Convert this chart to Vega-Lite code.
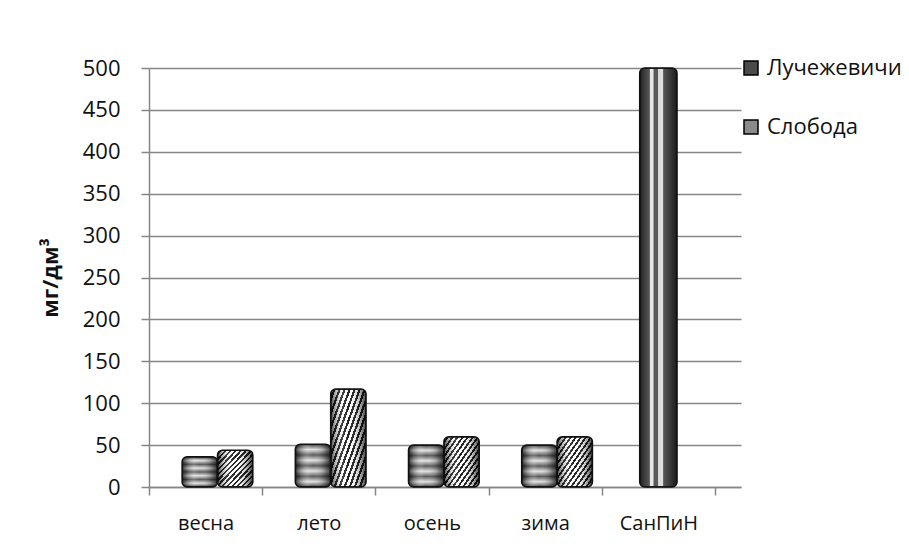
{
  "$schema": "https://vega.github.io/schema/vega-lite/v6.json",
  "width": 592,
  "height": 419,
  "autosize": {"type": "none"},
  "padding": {"left": 149, "top": 68, "right": 168, "bottom": 61},
  "background": "white",
  "config": {"view": {"stroke": null}, "font": "Open Sans"},
  "data": {
    "values": [
      {"season": "весна", "series": "Лучежевичи", "value": 36},
      {"season": "весна", "series": "Слобода", "value": 44},
      {"season": "лето", "series": "Лучежевичи", "value": 51},
      {"season": "лето", "series": "Слобода", "value": 117},
      {"season": "осень", "series": "Лучежевичи", "value": 50},
      {"season": "осень", "series": "Слобода", "value": 60},
      {"season": "зима", "series": "Лучежевичи", "value": 50},
      {"season": "зима", "series": "Слобода", "value": 60},
      {"season": "СанПиН", "series": "СанПиН", "value": 500}
    ]
  },
  "encoding": {
    "x": {
      "field": "season",
      "type": "nominal",
      "sort": ["весна", "лето", "осень", "зима", "СанПиН"],
      "scale": {"paddingInner": 0, "paddingOuter": 0.115, "align": 0},
      "axis": {
        "title": null,
        "labelAngle": 0,
        "labelFontSize": 20,
        "labelColor": "#111111",
        "labelPadding": 18,
        "domainColor": "#868686",
        "domainWidth": 1.5,
        "tickColor": "#868686",
        "tickWidth": 1.5,
        "tickSize": 8,
        "tickBand": "extent",
        "grid": false
      }
    },
    "y": {
      "field": "value",
      "type": "quantitative",
      "scale": {"domain": [0, 500], "nice": false},
      "axis": {
        "title": "мг/дм³",
        "values": [0, 50, 100, 150, 200, 250, 300, 350, 400, 450, 500],
        "grid": true,
        "gridColor": "#868686",
        "gridWidth": 1.5,
        "domainColor": "#868686",
        "domainWidth": 1.5,
        "tickColor": "#868686",
        "tickWidth": 1.5,
        "tickSize": 8,
        "labelFontSize": 22,
        "labelColor": "#111111",
        "labelPadding": 21,
        "titleFontSize": 22,
        "titleFontWeight": "bold",
        "titleColor": "#111111",
        "titleAngle": -90,
        "titleX": -99,
        "titleY": 209.5,
        "titleAlign": "center",
        "titleBaseline": "middle"
      }
    }
  },
  "layer": [
    {
      "transform": [{"filter": "datum.series !== 'СанПиН'"}],
      "mark": {"type": "bar", "cornerRadius": 5},
      "encoding": {
        "xOffset": {
          "field": "series",
          "type": "nominal",
          "scale": {"paddingInner": 0, "paddingOuter": 0.6, "align": 0.78}
        },
        "color": {
          "field": "series",
          "type": "nominal",
          "scale": {"domain": ["Лучежевичи", "Слобода"], "range": ["#4a4a4a", "#8a8a8a"]},
          "legend": {
            "title": null,
            "orient": "none",
            "legendX": 591,
            "legendY": -11,
            "padding": 0,
            "symbolType": "square",
            "symbolSize": 196,
            "symbolStrokeColor": "#000000",
            "symbolStrokeWidth": 1.5,
            "labelFontSize": 22,
            "labelColor": "#111111",
            "labelOffset": 5,
            "rowPadding": 37
          }
        }
      }
    },
    {
      "transform": [{"filter": "datum.series !== 'СанПиН'"}],
      "mark": {"type": "bar", "cornerRadius": 5},
      "encoding": {
        "xOffset": {"field": "series", "type": "nominal"},
        "fill": {
          "condition": {
            "test": "datum.series === 'Лучежевичи'",
            "value": {
              "gradient": "linear", "x1": 0, "y1": 0, "x2": 0, "y2": 1,
              "stops": [
                {"offset": 0, "color": "#3c3c3c"},
                {"offset": 0.125, "color": "#e2e2e2"},
                {"offset": 0.25, "color": "#5a5a5a"},
                {"offset": 0.375, "color": "#e2e2e2"},
                {"offset": 0.5, "color": "#5a5a5a"},
                {"offset": 0.625, "color": "#e2e2e2"},
                {"offset": 0.75, "color": "#5a5a5a"},
                {"offset": 0.875, "color": "#e2e2e2"},
                {"offset": 1, "color": "#3c3c3c"}
              ]
            }
          },
          "value": {
            "gradient": "linear", "x1": 0, "y1": 0, "x2": 1, "y2": 1,
            "stops": [
              {"offset": 0, "color": "#ffffff"}, {"offset": 0.0393, "color": "#ffffff"}, {"offset": 0.0393, "color": "#222222"}, {"offset": 0.0714, "color": "#222222"},
              {"offset": 0.0714, "color": "#ffffff"}, {"offset": 0.1107, "color": "#ffffff"}, {"offset": 0.1107, "color": "#222222"}, {"offset": 0.1429, "color": "#222222"},
              {"offset": 0.1429, "color": "#ffffff"}, {"offset": 0.1821, "color": "#ffffff"}, {"offset": 0.1821, "color": "#222222"}, {"offset": 0.2143, "color": "#222222"},
              {"offset": 0.2143, "color": "#ffffff"}, {"offset": 0.2536, "color": "#ffffff"}, {"offset": 0.2536, "color": "#222222"}, {"offset": 0.2857, "color": "#222222"},
              {"offset": 0.2857, "color": "#ffffff"}, {"offset": 0.325, "color": "#ffffff"}, {"offset": 0.325, "color": "#222222"}, {"offset": 0.3571, "color": "#222222"},
              {"offset": 0.3571, "color": "#ffffff"}, {"offset": 0.3964, "color": "#ffffff"}, {"offset": 0.3964, "color": "#222222"}, {"offset": 0.4286, "color": "#222222"},
              {"offset": 0.4286, "color": "#ffffff"}, {"offset": 0.4679, "color": "#ffffff"}, {"offset": 0.4679, "color": "#222222"}, {"offset": 0.5, "color": "#222222"},
              {"offset": 0.5, "color": "#ffffff"}, {"offset": 0.5393, "color": "#ffffff"}, {"offset": 0.5393, "color": "#222222"}, {"offset": 0.5714, "color": "#222222"},
              {"offset": 0.5714, "color": "#ffffff"}, {"offset": 0.6107, "color": "#ffffff"}, {"offset": 0.6107, "color": "#222222"}, {"offset": 0.6429, "color": "#222222"},
              {"offset": 0.6429, "color": "#ffffff"}, {"offset": 0.6821, "color": "#ffffff"}, {"offset": 0.6821, "color": "#222222"}, {"offset": 0.7143, "color": "#222222"},
              {"offset": 0.7143, "color": "#ffffff"}, {"offset": 0.7536, "color": "#ffffff"}, {"offset": 0.7536, "color": "#222222"}, {"offset": 0.7857, "color": "#222222"},
              {"offset": 0.7857, "color": "#ffffff"}, {"offset": 0.825, "color": "#ffffff"}, {"offset": 0.825, "color": "#222222"}, {"offset": 0.8571, "color": "#222222"},
              {"offset": 0.8571, "color": "#ffffff"}, {"offset": 0.8964, "color": "#ffffff"}, {"offset": 0.8964, "color": "#222222"}, {"offset": 0.9286, "color": "#222222"},
              {"offset": 0.9286, "color": "#ffffff"}, {"offset": 0.9679, "color": "#ffffff"}, {"offset": 0.9679, "color": "#222222"}, {"offset": 1, "color": "#222222"}
            ]
          }
        }
      }
    },
    {
      "transform": [{"filter": "datum.series !== 'СанПиН'"}],
      "mark": {
        "type": "bar",
        "cornerRadius": 5,
        "stroke": "#111111",
        "strokeWidth": 1.5,
        "fill": {
          "gradient": "linear", "x1": 0, "y1": 0, "x2": 1, "y2": 0,
          "stops": [
            {"offset": 0, "color": "rgba(0,0,0,0.75)"},
            {"offset": 0.12, "color": "rgba(0,0,0,0.35)"},
            {"offset": 0.35, "color": "rgba(255,255,255,0.15)"},
            {"offset": 0.5, "color": "rgba(255,255,255,0)"},
            {"offset": 0.8, "color": "rgba(0,0,0,0.25)"},
            {"offset": 1, "color": "rgba(0,0,0,0.75)"}
          ]
        }
      },
      "encoding": {
        "xOffset": {"field": "series", "type": "nominal"}
      }
    },
    {
      "transform": [{"filter": "datum.series === 'СанПиН'"}],
      "mark": {
        "type": "bar",
        "width": {"band": 0.33},
        "cornerRadius": 5,
        "stroke": "#111111",
        "strokeWidth": 1.5,
        "fill": {
          "gradient": "linear", "x1": 0, "y1": 0, "x2": 1, "y2": 0,
          "stops": [
            {"offset": 0, "color": "#1e1e1e"},
            {"offset": 0.12, "color": "#3a3a3a"},
            {"offset": 0.26, "color": "#555555"},
            {"offset": 0.28, "color": "#e8e8e8"},
            {"offset": 0.36, "color": "#e8e8e8"},
            {"offset": 0.38, "color": "#5a5a5a"},
            {"offset": 0.48, "color": "#5a5a5a"},
            {"offset": 0.5, "color": "#d8d8d8"},
            {"offset": 0.62, "color": "#e0e0e0"},
            {"offset": 0.64, "color": "#555555"},
            {"offset": 0.85, "color": "#333333"},
            {"offset": 1, "color": "#1a1a1a"}
          ]
        }
      },
      "encoding": {}
    }
  ]
}
